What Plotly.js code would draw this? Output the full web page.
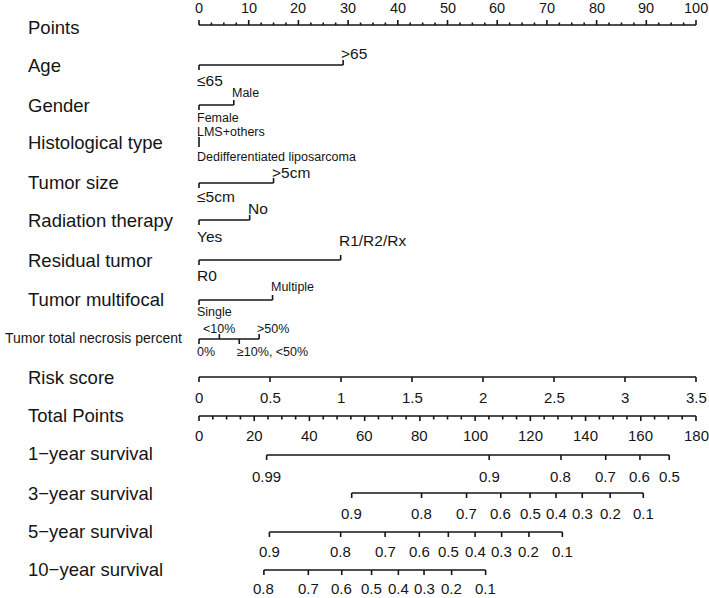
<!DOCTYPE html>
<html>
<head>
<meta charset="utf-8">
<script src="https://cdn.plot.ly/plotly-3.0.1.min.js"></script>
<style>
  html, body { margin: 0; padding: 0; background: #fff; }
  #chart { width: 709px; height: 598px; }
</style>
</head>
<body>
<div id="chart"></div>
<script>
// Nomogram data
const pointsTicks = [0, 10, 20, 30, 40, 50, 60, 70, 80, 90, 100];

const ageLevels = ['≤65', '>65'];
const agePoints = [0, 29];
const genderLevels = ['Female', 'Male'];
const genderPoints = [0, 7];
const histLevels = ['Dedifferentiated liposarcoma', 'LMS+others'];
const histPoints = [0, 0];
const sizeLevels = ['≤5cm', '>5cm'];
const sizePoints = [0, 15];
const radiationLevels = ['Yes', 'No'];
const radiationPoints = [0, 10.2];
const residualLevels = ['R0', 'R1/R2/Rx'];
const residualPoints = [0, 28.5];
const multifocalLevels = ['Single', 'Multiple'];
const multifocalPoints = [0, 14.8];
const necrosisLevels = ['0%', '<10%', '≥10%, <50%', '>50%'];
const necrosisPoints = [0, 4.1, 8.1, 12.1];

const riskTicks = [0, 0.5, 1, 1.5, 2, 2.5, 3, 3.5];
const totalTicks = [0, 20, 40, 60, 80, 100, 120, 140, 160, 180];

const surv1Labels = ['0.99', '0.9', '0.8', '0.7', '0.6', '0.5'];
const surv1Total = [24.5, 105.1, 131.1, 147.3, 159.7, 170.3];
const surv3Labels = ['0.9', '0.8', '0.7', '0.6', '0.5', '0.4', '0.3', '0.2', '0.1'];
const surv3Total = [55.3, 80.6, 96.9, 109.3, 119.9, 129.3, 138.8, 148.9, 160.9];
const surv5Labels = ['0.9', '0.8', '0.7', '0.6', '0.5', '0.4', '0.3', '0.2', '0.1'];
const surv5Total = [25.5, 51.3, 67.4, 79.8, 90.3, 100.0, 109.6, 119.5, 131.6];
const surv10Labels = ['0.8', '0.7', '0.6', '0.5', '0.4', '0.3', '0.2', '0.1'];
const surv10Total = [23.5, 39.6, 51.7, 62.5, 72.2, 81.5, 91.5, 103.8];

// page geometry: points 0 sits at pixel 199, 100 at pixel 696
const W = 709, H = 598;
const x0 = -199 / 497 * 100;
const x1 = x0 + W / 497 * 100;
const px = p => x0 + p / W * (x1 - x0);

const FONT = 'Liberation Sans, Arial, sans-serif';
const INK = '#151515';
const riskMax = riskTicks[riskTicks.length - 1];
const totalMax = totalTicks[totalTicks.length - 1];
const fromRisk = v => v / riskMax * 100;
const fromTotal = v => v / totalMax * 100;

const lineX = [], lineY = [];
const annotations = [];
function seg(xa, ya, xb, yb) { lineX.push(xa, xb, null); lineY.push(ya, yb, null); }
const esc = s => s.replace(/&/g, '&amp;').replace(/</g, '&lt;').replace(/>/g, '&gt;');
function label(x, y, text, size, anchor, shift) {
    annotations.push({
        x: x, y: y, xref: 'x', yref: 'y', text: esc(text), showarrow: false,
        xanchor: anchor || 'center', yanchor: 'middle', xshift: shift || 0,
        font: { family: FONT, size: size, color: INK }
    });
}

// row titles
const rows = [
    ['Points', 27], ['Age', 65], ['Gender', 105], ['Histological type', 142],
    ['Tumor size', 182], ['Radiation therapy', 220], ['Residual tumor', 260],
    ['Tumor multifocal', 299], ['Risk score', 377], ['Total Points', 415],
    ['1−year survival', 453], ['3−year survival', 493], ['5−year survival', 531],
    ['10−year survival', 569]
];
rows.forEach(r => label(px(26), r[1], r[0], 18.5, 'left'));
label(px(3), 338, 'Tumor total necrosis percent', 14, 'left');

// Points axis (ticks up)
seg(0, 25, 100, 25);
for (let v = 0; v <= 100; v += 2.5) {
    const major = v % 10 === 0;
    seg(v, 25, v, major ? 20 : 22.5);
}
pointsTicks.forEach(v => label(v, 8, String(v), 14.5));

// categorical rows: even index below the line, odd above
const centered = ['<10%'];
function catRow(levels, pts, y, size, up, down) {
    const lo = Math.min(...pts), hi = Math.max(...pts);
    if (hi > lo) seg(lo, y, hi, y);
    levels.forEach((lv, i) => {
        const above = i % 2 === 1;
        seg(pts[i], y, pts[i], above ? y - 5 : y + 5);
        const ly = above ? y - up : y + down;
        if (centered.includes(lv)) label(pts[i], ly, lv, size, 'center');
        else label(pts[i], ly, lv, size, 'left', -4);
    });
}
catRow(ageLevels, agePoints, 65, 15.5, 12, 15);
catRow(genderLevels, genderPoints, 105, 12.5, 12, 13);
catRow(histLevels, histPoints, 142, 12.5, 10, 15);
catRow(sizeLevels, sizePoints, 183, 15.5, 11, 13);
catRow(radiationLevels, radiationPoints, 220, 15.5, 12, 16);
catRow(residualLevels, residualPoints, 260, 15.5, 20, 15);
catRow(multifocalLevels, multifocalPoints, 300, 12.5, 13, 12);
catRow(necrosisLevels, necrosisPoints, 339, 12.5, 10, 13);

// Risk score axis (ticks down)
seg(0, 377, 100, 377);
riskTicks.forEach(v => {
    seg(fromRisk(v), 377, fromRisk(v), 382);
    label(fromRisk(v), 397, String(v), 15);
});

// Total points axis
seg(0, 416, 100, 416);
for (let v = 0; v <= totalMax; v += 5) {
    seg(fromTotal(v), 416, fromTotal(v), v % 20 === 0 ? 421 : 419.5);
}
totalTicks.forEach(v => label(fromTotal(v), 435, String(v), 15));

// survival axes
function survRow(labels, totals, y, ly) {
    const xs = totals.map(fromTotal);
    seg(xs[0], y, xs[xs.length - 1], y);
    xs.forEach((x, i) => {
        seg(x, y, x, y + 5);
        label(x, ly, labels[i], 15);
    });
}
survRow(surv1Labels, surv1Total, 455, 476);
survRow(surv3Labels, surv3Total, 493, 513);
survRow(surv5Labels, surv5Total, 532, 551);
survRow(surv10Labels, surv10Total, 570, 588);

const data = [{
    x: lineX, y: lineY, type: 'scatter', mode: 'lines',
    line: { color: INK, width: 1.6 }, hoverinfo: 'skip', connectgaps: false
}];

const layout = {
    width: W, height: H,
    margin: { l: 0, r: 0, t: 0, b: 0 },
    paper_bgcolor: '#fff', plot_bgcolor: '#fff',
    showlegend: false,
    xaxis: { range: [x0, x1], visible: false, fixedrange: true },
    yaxis: { range: [H, 0], visible: false, fixedrange: true },
    annotations: annotations
};

Plotly.newPlot('chart', data, layout, { staticPlot: true, displayModeBar: false });
</script>
</body>
</html>
